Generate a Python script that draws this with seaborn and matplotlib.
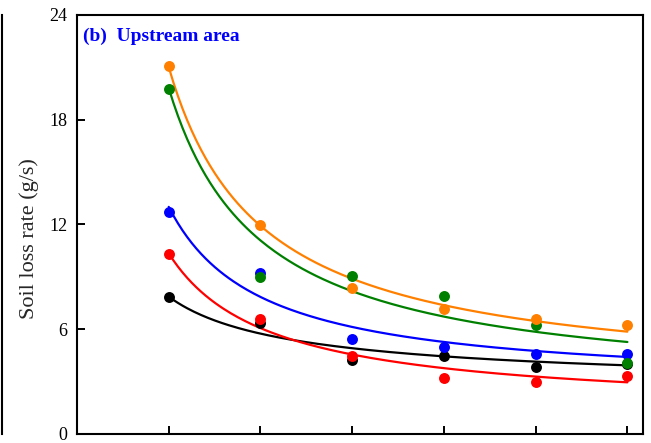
import numpy as np
import pandas as pd
import matplotlib
matplotlib.use("Agg")
import matplotlib.pyplot as plt
import seaborn as sns

# ---- data ----
x_vals = [1, 2, 3, 4, 5, 6]
series = ["Series 1", "Series 2", "Series 3", "Series 4", "Series 5"]
colors = ["#000000", "#FF0000", "#0000FF", "#008000", "#FF8000"]

s1_vals = [7.86, 6.37, 4.24, 4.48, 3.82, 4.00]
s2_vals = [10.30, 6.56, 4.48, 3.21, 2.96, 3.30]
s3_vals = [12.69, 9.23, 5.42, 4.98, 4.56, 4.58]
s4_vals = [19.77, 9.00, 9.04, 7.92, 6.26, 4.08]
s5_vals = [21.05, 11.98, 8.38, 7.17, 6.56, 6.24]

# fitted curves y = c + a * x**b
fit_a = [5.50, 9.22, 10.31, 17.44, 18.17]
fit_b = [-0.70, -0.90, -1.00, -1.00, -1.00]
fit_c = [2.36, 1.12, 2.69, 2.36, 2.83]

y_ticks = [0, 6, 12, 18, 24]
y_label = "Soil loss rate (g/s)"
panel_title = "(b)  Upstream area"

# ---- build tables ----
all_vals = [s1_vals, s2_vals, s3_vals, s4_vals, s5_vals]
pts = pd.DataFrame({
    "x": np.tile(x_vals, len(series)),
    "y": np.concatenate(all_vals),
    "series": np.repeat(series, len(x_vals)),
})
xs = np.linspace(min(x_vals), max(x_vals), 200)
curves = pd.DataFrame({
    "x": np.tile(xs, len(series)),
    "y": np.concatenate([c + a * xs ** b for a, b, c in zip(fit_a, fit_b, fit_c)]),
    "series": np.repeat(series, len(xs)),
})
palette = dict(zip(series, colors))

# ---- style ----
sns.set_style("ticks")
plt.rcParams["font.family"] = ["Liberation Serif", "DejaVu Serif"]
plt.rcParams["mathtext.fontset"] = "stix"

W, H = 651, 443
fig = plt.figure(figsize=(W / 100, H / 100), dpi=100)
ax_l, ax_r, ax_t, ax_b = 77, 643, 14.7, 434
ax = fig.add_axes([ax_l / W, (H - ax_b) / H, (ax_r - ax_l) / W, (ax_b - ax_t) / H])

# remnant of the neighbouring panel (its right frame line)
ax0 = fig.add_axes([-0.5, (H - ax_b) / H, 0.5 + 2.0 / W, (ax_b - ax_t) / H])
ax0.set_xticks([]); ax0.set_yticks([])
for side in ["left", "top", "bottom"]:
    ax0.spines[side].set_visible(False)
ax0.spines["right"].set_linewidth(1.5)
ax0.spines["right"].set_color("black")
ax0.patch.set_alpha(0)

sns.lineplot(data=curves, x="x", y="y", hue="series", palette=palette,
             linewidth=1.6, legend=False, ax=ax, zorder=2)
for name in series:
    sns.scatterplot(data=pts[pts["series"] == name], x="x", y="y", color=palette[name],
                    s=62, linewidth=0, legend=False, ax=ax, zorder=3)

ax.set_xlim(0, 6.17)
ax.set_ylim(0, 24)
ax.set_xticks(x_vals)
ax.set_yticks(y_ticks)
ax.tick_params(axis="both", direction="in", length=5.5, width=1.4, colors="black",
               labelsize=13, pad=7)
ax.tick_params(axis="x", labelbottom=False)
ax.set_xlabel("")
ax.set_ylabel(y_label, fontsize=16)
ax.yaxis.set_label_coords(-0.067, 0.467)
for sp in ax.spines.values():
    sp.set_linewidth(1.5)
    sp.set_color("black")

ax.text(0.0106, 0.938, panel_title, transform=ax.transAxes, color="#0000FF",
        fontsize=14, fontweight="bold", ha="left", va="baseline")

fig.savefig("out.png", dpi=100)
